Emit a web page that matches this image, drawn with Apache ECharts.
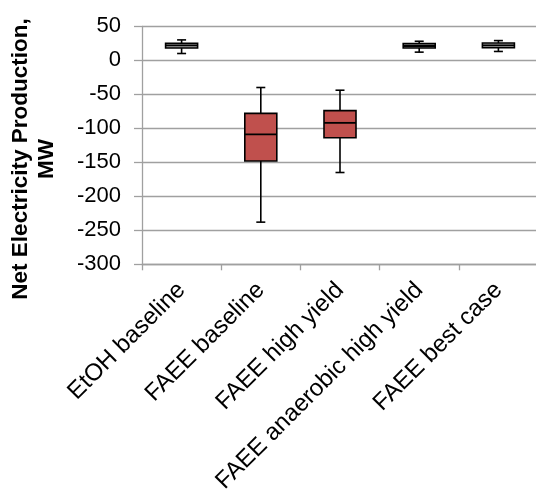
<!DOCTYPE html>
<html><head><meta charset="utf-8">
<script src="https://cdn.jsdelivr.net/npm/echarts@6/dist/echarts.min.js"></script>
<style>html,body{margin:0;padding:0;background:#fff}#c{width:536px;height:492px}</style>
</head><body><div id="c"></div>
<script>
const categories = ['EtOH baseline','FAEE baseline','FAEE high yield','FAEE anaerobic high yield','FAEE best case'];
const lowValues    = [10, -238, -165, 12, 13];
const q1Values     = [18, -148, -114, 18, 18.5];
const medianValues = [22, -109, -92, 21, 22];
const q3Values     = [25, -78, -74, 24.5, 25.5];
const highValues   = [30, -40, -44, 28, 29];
const yTicks = {min: -300, max: 50, interval: 50};
const yTitle = 'Net Electricity Production,\nMW';
const fillColors = ['#a6a6a6', '#C0504D', '#C0504D', '#a6a6a6', '#a6a6a6'];

const data = categories.map((c, i) => [i, lowValues[i], q1Values[i], medianValues[i], q3Values[i], highValues[i]]);

const chart = echarts.init(document.getElementById('c'), null, {renderer: 'canvas'});
chart.setOption({
  animation: false,
  backgroundColor: '#fff',
  grid: {left: 142, top: 26.3, width: 396, bottom: 227.7, containLabel: false, outerBoundsMode: 'none'},
  graphic: [{
    type: 'text', x: 34, y: 159, rotation: Math.PI / 2,
    style: {text: yTitle, fontFamily: 'Liberation Sans, Arial', fontWeight: 'bold', fontSize: 22.5, lineHeight: 26,
            fill: '#000', align: 'center', verticalAlign: 'middle'}
  }],
  xAxis: {
    type: 'category', data: categories,
    axisLine: {onZero: false, lineStyle: {color: '#a0a0a0', width: 1.3}},
    axisTick: {show: true, length: 6, lineStyle: {color: '#a0a0a0', width: 1.3}},
    axisLabel: {interval: 0, rotate: 45, color: '#000', fontFamily: 'Liberation Sans, Arial', fontSize: 24, margin: 22},
    splitLine: {show: false}
  },
  yAxis: {
    type: 'value', min: yTicks.min, max: yTicks.max, interval: yTicks.interval,
    axisLine: {show: true, lineStyle: {color: '#a0a0a0', width: 1.3}},
    axisTick: {show: true, length: 8, lineStyle: {color: '#a0a0a0', width: 1.3}},
    axisLabel: {color: '#000', fontFamily: 'Liberation Sans, Arial', fontSize: 22, margin: 21},
    splitLine: {show: true, lineStyle: {color: '#a0a0a0', width: 1.3}}
  },
  series: [{
    type: 'custom',
    data: data,
    encode: {x: 0, y: [1, 2, 3, 4, 5]},
    renderItem: function (params, api) {
      const i = api.value(0);
      const lo = api.coord([i, api.value(1)]);
      const q1 = api.coord([i, api.value(2)]);
      const md = api.coord([i, api.value(3)]);
      const q3 = api.coord([i, api.value(4)]);
      const hi = api.coord([i, api.value(5)]);
      const x = lo[0];
      const bw = 32, cw = 9;
      const ls = {stroke: '#000', lineWidth: 1.6};
      return {
        type: 'group',
        children: [
          {type: 'line', shape: {x1: x, y1: q3[1], x2: x, y2: hi[1]}, style: ls},
          {type: 'line', shape: {x1: x - cw / 2, y1: hi[1], x2: x + cw / 2, y2: hi[1]}, style: ls},
          {type: 'line', shape: {x1: x, y1: q1[1], x2: x, y2: lo[1]}, style: ls},
          {type: 'line', shape: {x1: x - cw / 2, y1: lo[1], x2: x + cw / 2, y2: lo[1]}, style: ls},
          {type: 'rect', shape: {x: x - bw / 2, y: q3[1], width: bw, height: q1[1] - q3[1]},
           style: {fill: fillColors[params.dataIndex], stroke: '#000', lineWidth: 1.6}},
          {type: 'line', shape: {x1: x - bw / 2, y1: md[1], x2: x + bw / 2, y2: md[1]}, style: {stroke: '#000', lineWidth: 1.8}}
        ]
      };
    }
  }]
});
</script></body></html>
